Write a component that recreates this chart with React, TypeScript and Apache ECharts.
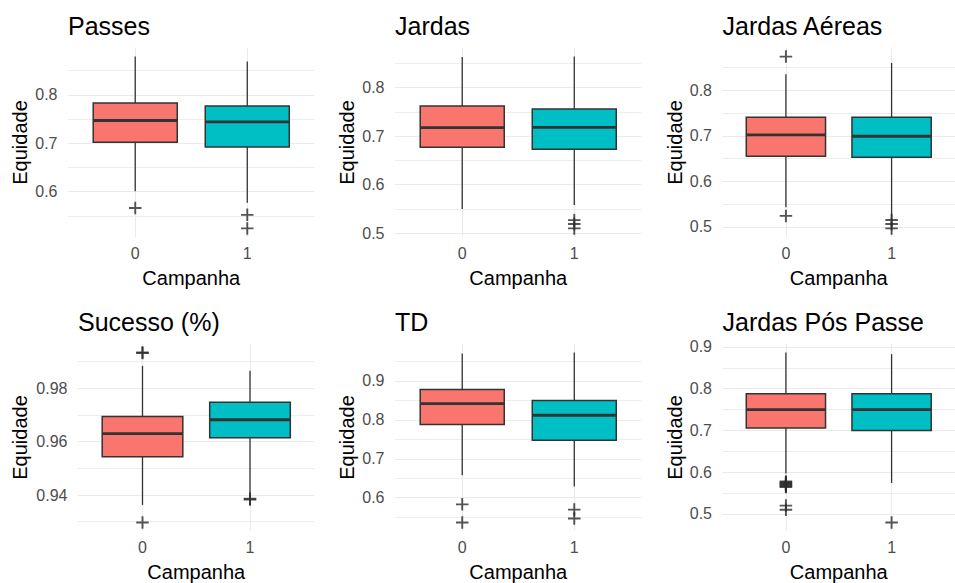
import React, { useEffect, useRef } from 'react';
import * as echarts from 'echarts';

// Grupos de campanha no eixo x
const CAMPANHA = ['0', '1'];
const TITLES = ['Passes', 'Jardas', 'Jardas Aéreas', 'Sucesso (%)', 'TD', 'Jardas Pós Passe'];
const FILLS = ['#F8766D', '#00BFC4'];

// Estatísticas de cada caixa: [bigode inferior, Q1, mediana, Q3, bigode superior]
const passesBoxes = [
  [0.601, 0.702, 0.747, 0.783, 0.879],
  [0.577, 0.692, 0.744, 0.777, 0.869],
];
const passesOutliers = [[0.566], [0.552, 0.524]];
const passesTicks = ['0.6', '0.7', '0.8'];

const jardasBoxes = [
  [0.55, 0.677, 0.7176, 0.762, 0.863],
  [0.558, 0.673, 0.718, 0.756, 0.864],
];
const jardasOutliers = [[], [0.527, 0.519, 0.51]];
const jardasTicks = ['0.5', '0.6', '0.7', '0.8'];

const aereasBoxes = [
  [0.543, 0.655, 0.702, 0.741, 0.835],
  [0.521, 0.653, 0.699, 0.741, 0.86],
];
const aereasOutliers = [[0.874, 0.524], [0.515, 0.506, 0.4965]];
const aereasTicks = ['0.5', '0.6', '0.7', '0.8'];

const sucessoBoxes = [
  [0.9363, 0.9543, 0.963, 0.9694, 0.9884],
  [0.9405, 0.9615, 0.9682, 0.9748, 0.9866],
];
const sucessoOutliers = [[0.9934, 0.9932, 0.9297], [0.9386, 0.9383]];
const sucessoTicks = ['0.94', '0.96', '0.98'];

const tdBoxes = [
  [0.658, 0.788, 0.8415, 0.878, 0.9704],
  [0.6287, 0.7475, 0.8118, 0.85, 0.973],
];
const tdOutliers = [[0.583, 0.5364], [0.5695, 0.5466]];
const tdTicks = ['0.6', '0.7', '0.8', '0.9'];

const posPasseBoxes = [
  [0.597, 0.706, 0.75, 0.788, 0.8867],
  [0.5743, 0.6997, 0.75, 0.788, 0.8827],
];
const posPasseOutliers = [
  [0.578, 0.576, 0.574, 0.572, 0.57, 0.568, 0.566, 0.5645, 0.52, 0.51],
  [0.4795],
];
const posPasseTicks = ['0.5', '0.6', '0.7', '0.8', '0.9'];

const PANELS = [
  { boxes: passesBoxes, outliers: passesOutliers, ticks: passesTicks },
  { boxes: jardasBoxes, outliers: jardasOutliers, ticks: jardasTicks },
  { boxes: aereasBoxes, outliers: aereasOutliers, ticks: aereasTicks },
  { boxes: sucessoBoxes, outliers: sucessoOutliers, ticks: sucessoTicks },
  { boxes: tdBoxes, outliers: tdOutliers, ticks: tdTicks },
  { boxes: posPasseBoxes, outliers: posPasseOutliers, ticks: posPasseTicks },
];

// Área de plotagem de cada painel (px)
const ROW_TOPS = [48, 344];
const PLOT_H = 189;
const COLS = [
  [{ left: 68, width: 246.5 }, { left: 395, width: 246.5 }, { left: 722.5, width: 246 }],
  [{ left: 78, width: 236.5 }, { left: 395, width: 246.5 }, { left: 722.5, width: 246 }],
];

const FONT = '"Liberation Sans", Arial, Helvetica, sans-serif';
const BOX_WIDTH = 0.75;
const PLUS = 'path://M0,5.5H13V7.5H0Z M5.5,0H7.5V13H5.5Z';
const GRID_COLOR = '#EBEBEB';

function yRange(boxes: number[][], outliers: number[][]) {
  const all = boxes.flat().concat(outliers.flat());
  const lo = Math.min(...all);
  const hi = Math.max(...all);
  const pad = (hi - lo) * 0.05;
  return [lo - pad, hi + pad];
}

function minorTicks(major: number[], min: number, max: number) {
  const step = major[1] - major[0];
  const out: number[] = [];
  const candidates = [major[0] - step / 2, ...major.map((m) => m + step / 2)];
  candidates.forEach((v) => {
    if (v >= min && v <= max) out.push(+v.toFixed(6));
  });
  return out;
}

function buildOption() {
  const grid: any[] = [];
  const xAxis: any[] = [];
  const yAxis: any[] = [];
  const series: any[] = [];
  const title: any[] = [];

  PANELS.forEach((p, i) => {
    const row = Math.floor(i / 3);
    const col = i % 3;
    const { left, width } = COLS[row][col];
    const top = ROW_TOPS[row];
    const [ymin, ymax] = yRange(p.boxes, p.outliers);
    const major = p.ticks.map(Number);
    const decimals = p.ticks[0].split('.')[1].length;

    grid.push({ left, top, width, height: PLOT_H, containLabel: false });

    title.push({
      text: TITLES[i],
      left,
      top: top - 35,
      padding: 0,
      textStyle: { fontFamily: FONT, fontSize: 25, fontWeight: 'normal', color: '#000' },
    });

    xAxis.push({
      type: 'value',
      gridIndex: i,
      min: -0.6,
      max: 1.6,
      axisLine: { show: false },
      axisTick: { show: false, customValues: [0, 1] },
      axisLabel: {
        customValues: [0, 1],
        formatter: (v: number) => CAMPANHA[Math.round(v)],
        color: '#4D4D4D',
        fontFamily: FONT,
        fontSize: 16,
        margin: 8,
      },
      splitLine: { show: true, lineStyle: { color: GRID_COLOR, width: 1.1 } },
      name: 'Campanha',
      nameLocation: 'middle',
      nameGap: 31,
      nameTextStyle: { fontFamily: FONT, fontSize: 20, color: '#000' },
    });

    const majorIndex = yAxis.length;
    yAxis.push({
      type: 'value',
      gridIndex: i,
      position: 'left',
      min: ymin,
      max: ymax,
      axisLine: { show: false },
      axisTick: { show: false, customValues: major },
      axisLabel: {
        customValues: major,
        formatter: (v: number) => v.toFixed(decimals),
        color: '#4D4D4D',
        fontFamily: FONT,
        fontSize: 16,
        margin: 10.5,
      },
      splitLine: { show: true, lineStyle: { color: GRID_COLOR, width: 1.1 } },
      name: 'Equidade',
      nameLocation: 'middle',
      nameRotate: 90,
      nameGap: row === 1 && col === 0 ? 48 : 38,
      nameTextStyle: { fontFamily: FONT, fontSize: 20, color: '#000' },
    });
    yAxis.push({
      type: 'value',
      gridIndex: i,
      position: 'right',
      min: ymin,
      max: ymax,
      axisLine: { show: false },
      axisTick: { show: false, customValues: minorTicks(major, ymin, ymax) },
      axisLabel: { show: false },
      splitLine: { show: true, lineStyle: { color: GRID_COLOR, width: 0.9 } },
    });

    series.push({
      type: 'custom',
      xAxisIndex: i,
      yAxisIndex: majorIndex,
      dimensions: ['x', 'lo', 'q1', 'med', 'q3', 'hi'],
      encode: { x: 0, y: [1, 2, 3, 4, 5] },
      data: p.boxes.map((b, k) => [k, ...b]),
      renderItem: (params: any, api: any) => {
        const x = api.value(0);
        const yOf = (d: number) => api.coord([x, api.value(d)])[1];
        const cx = api.coord([x, api.value(3)])[0];
        const yLo = yOf(1);
        const yQ1 = yOf(2);
        const yMed = yOf(3);
        const yQ3 = yOf(4);
        const yHi = yOf(5);
        const half = api.size([BOX_WIDTH, 0])[0] / 2;
        const stroke = '#333333';
        return {
          type: 'group',
          children: [
            { type: 'line', shape: { x1: cx, y1: yHi, x2: cx, y2: yQ3 }, style: { stroke, lineWidth: 1.3 } },
            { type: 'line', shape: { x1: cx, y1: yQ1, x2: cx, y2: yLo }, style: { stroke, lineWidth: 1.3 } },
            {
              type: 'rect',
              shape: { x: cx - half, y: yQ3, width: half * 2, height: yQ1 - yQ3 },
              style: { fill: FILLS[params.dataIndex], stroke, lineWidth: 1.5 },
            },
            {
              type: 'line',
              shape: { x1: cx - half, y1: yMed, x2: cx + half, y2: yMed },
              style: { stroke, lineWidth: 2.8 },
            },
          ],
        };
      },
    });

    series.push({
      type: 'scatter',
      xAxisIndex: i,
      yAxisIndex: majorIndex,
      symbol: PLUS,
      symbolSize: 12.5,
      itemStyle: { color: '#2B2B2B' },
      data: p.outliers.flatMap((vals, k) => vals.map((v) => [k, v])),
      z: 3,
    });
  });

  return { animation: false, backgroundColor: '#FFFFFF', title, grid, xAxis, yAxis, series };
}

export default function App() {
  const ref = useRef<HTMLDivElement>(null);

  useEffect(() => {
    if (!ref.current) return;
    const chart = echarts.init(ref.current, undefined, { renderer: 'svg' });
    chart.setOption(buildOption() as any);
    return () => chart.dispose();
  }, []);

  return (
    <div
      ref={ref}
      style={{ position: 'absolute', left: 0, top: 0, width: 955, height: 583, background: '#FFFFFF' }}
    />
  );
}
